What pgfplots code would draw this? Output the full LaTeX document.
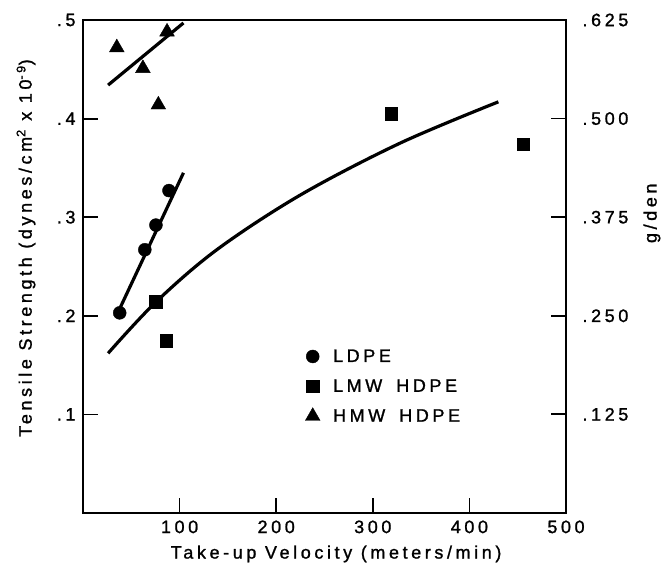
\documentclass[border=0pt]{standalone}
\usepackage{fontspec}
\setmainfont{Liberation Sans}[LetterSpace=20, FakeBold=1.2]
\usepackage{pgfplots}
\pgfplotsset{compat=1.18}

% LDPE fibres
\pgfplotstableread{
v s
38 0.203
64 0.267
75.5 0.292
89 0.327
}\ldpe
% low molecular weight HDPE
\pgfplotstableread{
v s
75.5 0.214
86 0.175
319 0.405
455.5 0.374
}\lmw
% high molecular weight HDPE
\pgfplotstableread{
v s
35 0.472
62 0.451
78 0.414
87 0.488
}\hmw

\begin{document}
\begin{tikzpicture}[font=\fontsize{18bp}{21bp}\selectfont]
\useasboundingbox (-83bp,-56bp) rectangle (581bp,513bp);
\begin{axis}[
  at={(0,0)}, anchor=south west,
  scale only axis, width=483bp, height=493bp,
  xmin=0, xmax=500, ymin=0, ymax=0.5,
  axis line style={line width=2.2bp},
  every tick/.style={line width=1.8bp, black},
  major tick length=15bp,
  tick align=inside,
  xtick pos=left, ytick pos=left,
  xtick={100,200,300,400,500}, xticklabels={100,200,300,400,500},
  ytick={0.1,0.2,0.3,0.4,0.5}, yticklabels={.1,.2,.3,.4,.5},
  xticklabel style={yshift=-4bp},
  yticklabel style={xshift=-4bp},
  xlabel={Take-up Velocity (meters/min)},
  xlabel style={at={(axis description cs:0.524,-0.083)}, anchor=center},
  ylabel={Tensile Strength (dynes/cm\textsuperscript{2} x 10\textsuperscript{-9})},
  ylabel style={at={(axis description cs:-0.118,0.5375)}, anchor=center},
  legend style={at={(axis cs:230,0.168)}, anchor=north west, draw=none, fill=none,
    row sep=12bp, inner sep=0pt,
    /tikz/every odd column/.append style={column sep=11bp}},
  legend cell align=left,
]
% fitted lines
\addplot[forget plot, line width=3.2bp, black] coordinates {(36,0.203) (104,0.345)};
\addplot[forget plot, line width=3.2bp, black] coordinates {(26,0.434) (104,0.497)};
\addplot[forget plot, line width=3.2bp, black, smooth, tension=0.55] coordinates {
  (26,0.162) (75.5,0.214) (138.5,0.267) (225,0.3225) (328,0.375) (430,0.417)};
% measured points
\addplot[only marks, mark=*, mark size=6.5bp, black] table {\ldpe};
\addlegendentry{LDPE}
\addplot[only marks, mark=square*, mark size=6.3bp, black] table {\lmw};
\addlegendentry{LMW\hspace{14bp}HDPE}
\addplot[only marks, mark=triangle*, mark size=8.5bp, black] table {\hmw};
\addlegendentry{HMW\hspace{14bp}HDPE}
\end{axis}
% tenacity scale on the right
\begin{axis}[
  at={(0,0)}, anchor=south west,
  scale only axis, width=483bp, height=493bp,
  xmin=0, xmax=500, ymin=0, ymax=0.625,
  axis x line=none, axis y line*=right,
  axis line style={line width=2.2bp},
  every tick/.style={line width=1.8bp, black},
  major tick length=15bp,
  tick align=inside,
  ytick={0.125,0.25,0.375,0.5,0.625}, yticklabels={.125,.250,.375,.500,.625},
  yticklabel style={xshift=13bp},
  ylabel={g/den},
  ylabel style={at={(axis description cs:1.178,0.608)}, anchor=center},
]
\end{axis}
\end{tikzpicture}
\end{document}
